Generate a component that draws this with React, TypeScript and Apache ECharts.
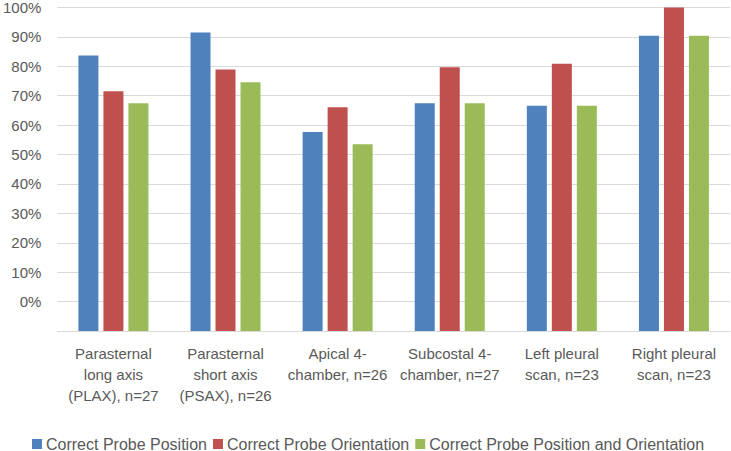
import React, { useEffect, useRef } from "react";
import * as echarts from "echarts";

const categories = [
  "Parasternal\nlong axis\n(PLAX), n=27",
  "Parasternal\nshort axis\n(PSAX), n=26",
  "Apical 4-\nchamber, n=26",
  "Subcostal 4-\nchamber, n=27",
  "Left pleural\nscan, n=23",
  "Right pleural\nscan, n=23",
];
const seriesNames = [
  "Correct Probe Position",
  "Correct Probe Orientation",
  "Correct Probe Position and Orientation",
];
const position = [85.2, 92.3, 61.5, 70.4, 69.6, 91.3];
const orientation = [74.1, 80.8, 69.2, 81.5, 82.6, 100];
const both = [70.4, 76.9, 57.7, 70.4, 69.6, 91.3];
const colors = ["#4F81BD", "#C0504D", "#9BBB59"];

const FONT = "'Liberation Sans', Arial, sans-serif";

export default function App() {
  const ref = useRef<HTMLDivElement>(null);
  useEffect(() => {
    if (!ref.current) return;
    const chart = echarts.init(ref.current, undefined, { renderer: "svg" });
    const data = [position, orientation, both];
    chart.setOption({
      animation: false,
      textStyle: { fontFamily: FONT },
      grid: { left: 53, right: 1, top: 7.5, bottom: 120, containLabel: false },
      legend: {
        top: 436,
        left: 32,
        padding: 0,
        icon: "rect",
        itemWidth: 10,
        itemHeight: 10,
        itemGap: 6,
        textStyle: { fontFamily: FONT, fontSize: 16, color: "#595959", padding: [0, 0, 0, -1] },
        data: seriesNames,
      },
      xAxis: {
        type: "category",
        data: categories,
        axisLine: { lineStyle: { color: "#D9D9D9", width: 1 } },
        axisTick: { show: false },
        axisLabel: {
          interval: 0,
          margin: 12,
          fontFamily: FONT,
          fontSize: 15,
          lineHeight: 21,
          color: "#595959",
        },
      },
      yAxis: {
        type: "value",
        min: 0,
        max: 100,
        interval: 100 / 11,
        axisLine: { show: false },
        axisTick: { show: false },
        splitLine: { lineStyle: { color: "#D9D9D9", width: 1 } },
        axisLabel: {
          margin: 16,
          fontFamily: FONT,
          fontSize: 15,
          color: "#595959",
          formatter: (v: number) => {
            const i = Math.round((v * 11) / 100);
            return i === 0 ? "" : (i - 1) * 10 + "%";
          },
        },
      },
      series: seriesNames.map((name, k) => ({
        name,
        type: "bar",
        data: data[k],
        barWidth: 20,
        barGap: "25%",
        itemStyle: { color: colors[k] },
      })),
    });
    return () => chart.dispose();
  }, []);
  return <div ref={ref} style={{ width: 731, height: 451, position: "absolute", left: 0, top: 0 }} />;
}
